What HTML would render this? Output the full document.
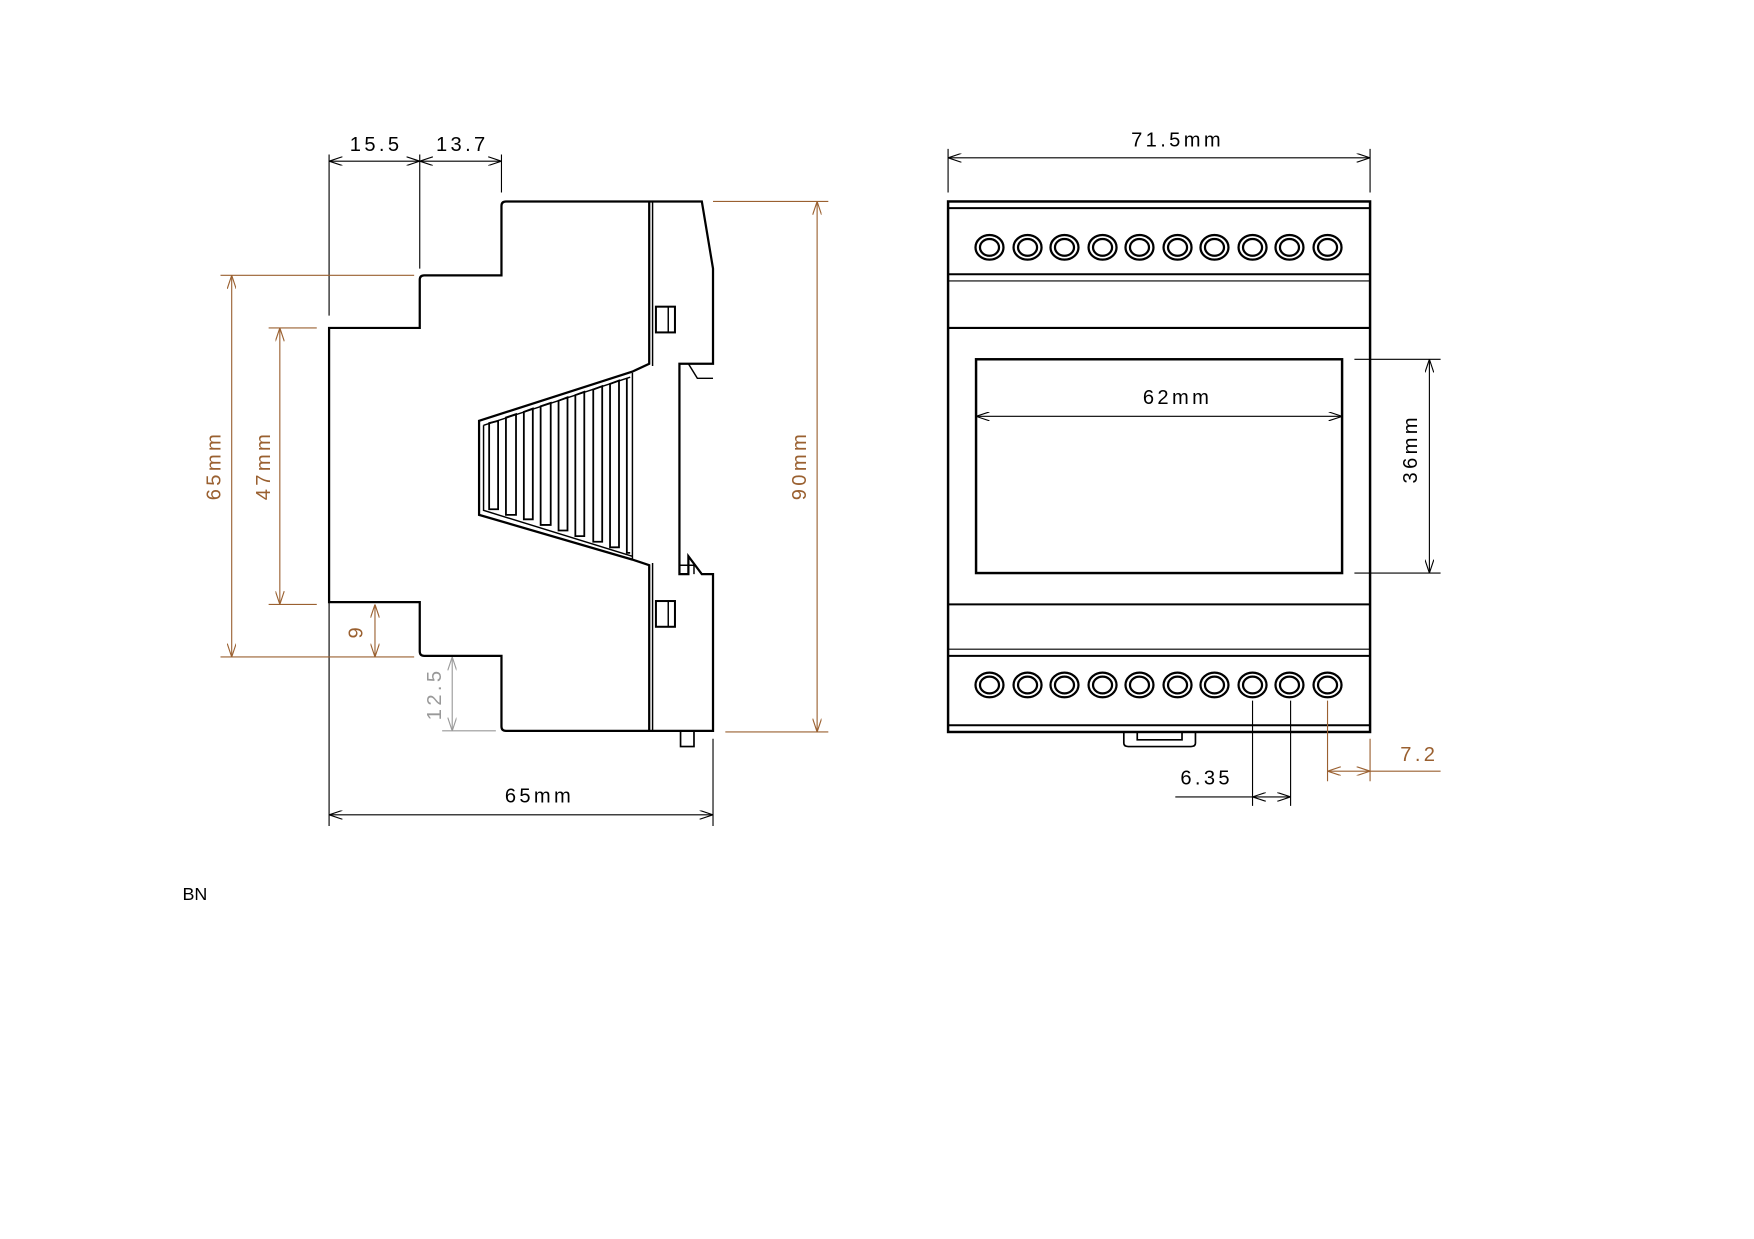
<!DOCTYPE html>
<html><head><meta charset="utf-8"><style>
html,body{margin:0;padding:0;background:#fff}
svg{display:block}
text{font-family:"Liberation Sans",sans-serif;font-size:18px;letter-spacing:3px}
</style></head><body>
<svg width="1754" height="1239" viewBox="0 0 1567 1107" preserveAspectRatio="none" xmlns="http://www.w3.org/2000/svg">
<defs>
<marker id="a" viewBox="0 0 12 8" refX="12" refY="4" markerWidth="12" markerHeight="8" orient="auto-start-reverse" markerUnits="userSpaceOnUse"><path d="M0,0 L12,4 L0,8" fill="none" stroke="context-stroke" stroke-width="1"/></marker>
</defs>
<rect width="1567" height="1107" fill="#fff"/>
<g fill="none" stroke="#000" stroke-width="2">
<path d="M448,184 Q448,180 452,180 L580,180 M448,184 L448,246 L379,246 Q375,246 375,250 L375,293 L294,293 L294,538 L375,538 L375,582 Q375,586 379,586 L448,586 L448,649 Q448,653 452,653 L637,653 L637,513 L627,513 L615,497 L615,513 L607,513 L607,325 L637,325 L637,240 L627,180 L580,180"/>
<path d="M580,180 L580,325 L565,332 L428,376 L428,460 L565,500 L580,505 L580,653"/>
<path d="M583,180 L583,327 M583,503 L583,653" stroke-width="1.3"/>
<path d="M565,333 L565,499 M432,380 L432,456 L565,497 M432,380 L563,337" stroke-width="1.3"/>
<path d="M615,325 L623,338 L637,338 M607,505 L620,505 L620,513" stroke-width="1.3"/>
<rect x="586" y="274" width="17" height="23" stroke-width="1.8"/>
<rect x="586" y="537" width="17" height="23" stroke-width="1.8"/>
<path d="M597,274 L597,297 M597,537 L597,560" stroke-width="1.3"/>
<rect x="608" y="653" width="12" height="14" stroke-width="1.5"/>
</g>
<g fill="none" stroke="#000" stroke-width="1.6">
<path d="M437,378 V455 H445 V376 Z"/>
<path d="M452,373 V460 H461 V370 Z"/>
<path d="M468,368 V464 H476 V365 Z"/>
<path d="M483,363 V469 H492 V360 Z"/>
<path d="M499,358 V474 H507 V355 Z"/>
<path d="M514,353 V479 H522 V350 Z"/>
<path d="M530,348 V484 H538 V345 Z"/>
<path d="M545,343 V489 H553 V340 Z"/>
<path d="M560,338 V494 H563"/>
</g>
<g stroke="#000" stroke-width="1" fill="none">
<path d="M294,138 V282 M375,138 V240 M448,138 V172 M294,300 V738 M637,660 V738"/>
<path d="M294,144 H375" marker-start="url(#a)" marker-end="url(#a)"/>
<path d="M375,144 H448" marker-start="url(#a)" marker-end="url(#a)"/>
<path d="M294,728 H637" marker-start="url(#a)" marker-end="url(#a)"/>
</g>
<text x="336" y="135" text-anchor="middle">15.5</text>
<text x="413" y="135" text-anchor="middle">13.7</text>
<text x="482" y="717" text-anchor="middle">65mm</text>
<g stroke="#9a6030" stroke-width="1" fill="none">
<path d="M197,246 H370 M197,587 H370 M240,293 H283 M240,540 H283 M637,180 H740 M648,654 H740"/>
<path d="M207,246 V587" marker-start="url(#a)" marker-end="url(#a)"/>
<path d="M250,293 V540" marker-start="url(#a)" marker-end="url(#a)"/>
<path d="M335,540 V587" marker-start="url(#a)" marker-end="url(#a)"/>
<path d="M730,180 V654" marker-start="url(#a)" marker-end="url(#a)"/>
</g>
<g fill="#9a6030">
<text transform="translate(197,416) rotate(-90)" text-anchor="middle">65mm</text>
<text transform="translate(241,416) rotate(-90)" text-anchor="middle">47mm</text>
<text transform="translate(324,564) rotate(-90)" text-anchor="middle">9</text>
<text transform="translate(720,416) rotate(-90)" text-anchor="middle">90mm</text>
</g>
<g stroke="#999" stroke-width="1" fill="none">
<path d="M395,653 H443"/>
<path d="M404,587 V653" marker-start="url(#a)" marker-end="url(#a)"/>
</g>
<text transform="translate(394,620) rotate(-90)" text-anchor="middle" fill="#999">12.5</text>
<g fill="none" stroke="#000">
<rect x="847" y="180" width="377" height="474" stroke-width="2.2"/>
<path d="M847,186 H1224 M847,245 H1224 M847,293 H1224 M847,540 H1224 M847,586 H1224 M847,648 H1224" stroke-width="1.8"/>
<path d="M847,251 H1224 M847,580 H1224" stroke-width="1"/>
<rect x="872" y="321" width="327" height="191" stroke-width="2.2"/>
<path d="M1004,654 V664 Q1004,667 1008,667 H1064 Q1068,667 1068,664 V654 M1016,654 V661 H1056 V654" stroke-width="1.5"/>
</g>
<g fill="none" stroke="#000" stroke-width="2">
<g id="t">
<ellipse cx="884" cy="221" rx="12.5" ry="11"/><ellipse cx="884" cy="221" rx="8.5" ry="7.5"/>
<ellipse cx="918" cy="221" rx="12.5" ry="11"/><ellipse cx="918" cy="221" rx="8.5" ry="7.5"/>
<ellipse cx="951" cy="221" rx="12.5" ry="11"/><ellipse cx="951" cy="221" rx="8.5" ry="7.5"/>
<ellipse cx="985" cy="221" rx="12.5" ry="11"/><ellipse cx="985" cy="221" rx="8.5" ry="7.5"/>
<ellipse cx="1018" cy="221" rx="12.5" ry="11"/><ellipse cx="1018" cy="221" rx="8.5" ry="7.5"/>
<ellipse cx="1052" cy="221" rx="12.5" ry="11"/><ellipse cx="1052" cy="221" rx="8.5" ry="7.5"/>
<ellipse cx="1085" cy="221" rx="12.5" ry="11"/><ellipse cx="1085" cy="221" rx="8.5" ry="7.5"/>
<ellipse cx="1119" cy="221" rx="12.5" ry="11"/><ellipse cx="1119" cy="221" rx="8.5" ry="7.5"/>
<ellipse cx="1152" cy="221" rx="12.5" ry="11"/><ellipse cx="1152" cy="221" rx="8.5" ry="7.5"/>
<ellipse cx="1186" cy="221" rx="12.5" ry="11"/><ellipse cx="1186" cy="221" rx="8.5" ry="7.5"/>
</g>
<use href="#t" y="391"/>
</g>
<g stroke="#000" stroke-width="1" fill="none">
<path d="M847,133 V172 M1224,133 V172 M1210,321 H1287 M1210,512 H1287 M1119,626 V720 M1153,626 V720"/>
<path d="M847,141 H1224" marker-start="url(#a)" marker-end="url(#a)"/>
<path d="M872,372 H1199" marker-start="url(#a)" marker-end="url(#a)"/>
<path d="M1277,321 V512" marker-start="url(#a)" marker-end="url(#a)"/>
<path d="M1050,712 H1119"/>
<path d="M1119,712 H1153" marker-start="url(#a)" marker-end="url(#a)"/>
</g>
<text x="1052" y="131" text-anchor="middle">71.5mm</text>
<text x="1052" y="361" text-anchor="middle">62mm</text>
<text transform="translate(1266,401) rotate(-90)" text-anchor="middle">36mm</text>
<text x="1078" y="701" text-anchor="middle">6.35</text>
<g stroke="#9a6030" stroke-width="1" fill="none">
<path d="M1186,626 V698 M1224,660 V698 M1224,689 H1287"/>
<path d="M1186,689 H1224" marker-start="url(#a)" marker-end="url(#a)"/>
</g>
<text x="1268" y="680" text-anchor="middle" fill="#9a6030">7.2</text>
<text x="163" y="804" style="font-size:16px;letter-spacing:0">BN</text>
</svg>
</body></html>
